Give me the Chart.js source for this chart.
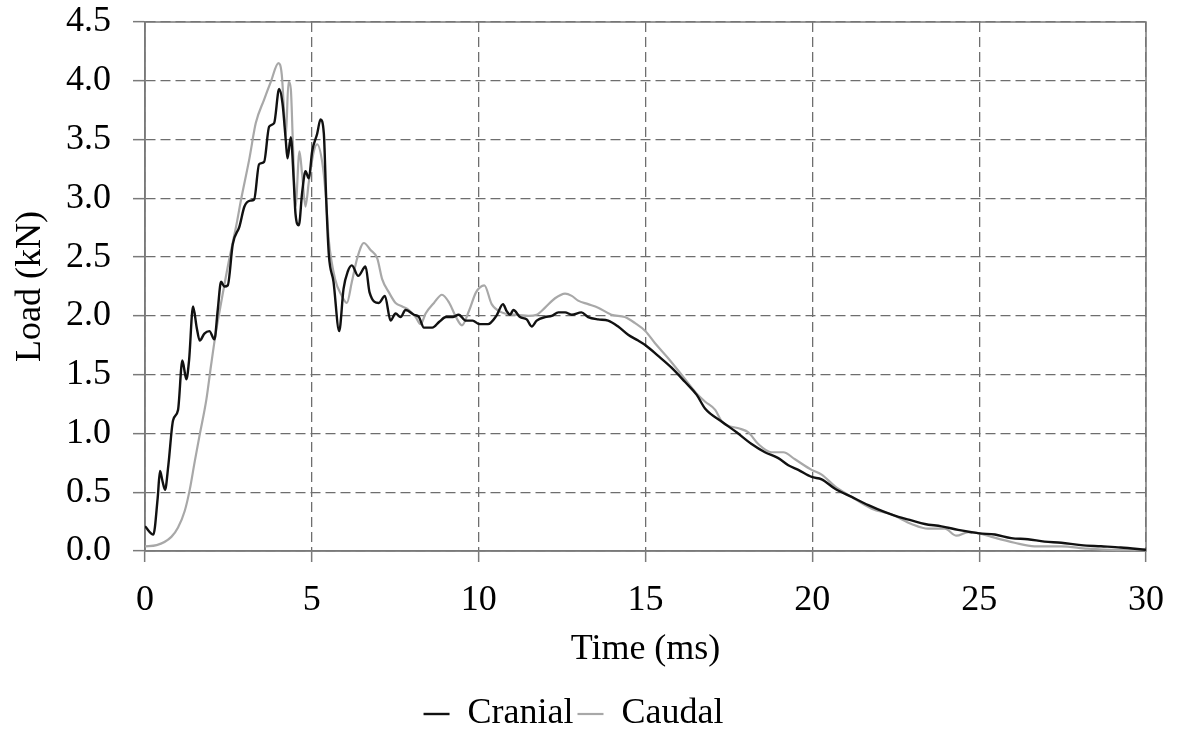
<!DOCTYPE html>
<html>
<head>
<meta charset="utf-8">
<script src="https://cdn.jsdelivr.net/npm/chart.js@4.4.1/dist/chart.umd.min.js"></script>
<style>
  body { margin: 0; background: #fff; }
  #wrap { width: 1181px; height: 733px; }
</style>
</head>
<body>
<div id="wrap"><canvas id="myChart"></canvas></div>
<script>
// data
let cranialTime = [0, 0.25, 0.38, 0.45, 0.52, 0.6, 0.7, 0.84, 0.99, 1.12, 1.24, 1.32, 1.44, 1.55, 1.64, 1.78, 1.93, 2.08, 2.18, 2.28, 2.38, 2.48, 2.63, 2.83, 2.98, 3.15, 3.27, 3.42, 3.57, 3.72, 3.87, 4.02, 4.12, 4.22, 4.27, 4.37, 4.46, 4.51, 4.61, 4.71, 4.81, 4.91, 5.01, 5.16, 5.26, 5.36, 5.43, 5.51, 5.65, 5.82, 5.95, 6.08, 6.2, 6.39, 6.61, 6.73, 7.01, 7.19, 7.36, 7.51, 7.66, 7.81, 8.06, 8.21, 8.36, 8.61, 8.82, 9.02, 9.22, 9.4, 9.62, 9.82, 10.02, 10.28, 10.53, 10.73, 10.84, 10.94, 11.04, 11.24, 11.44, 11.59, 11.74, 11.99, 12.19, 12.39, 12.59, 12.79, 13.08, 13.28, 13.58, 13.88, 14.18, 14.48, 14.78, 15.0, 15.38, 15.78, 16.18, 16.53, 16.79, 17.29, 17.73, 18.18, 18.58, 18.98, 19.28, 19.58, 19.98, 20.28, 20.68, 21.18, 21.68, 22.18, 22.58, 22.97, 23.37, 23.87, 24.37, 24.77, 25.0, 25.47, 25.96, 26.46, 26.96, 27.46, 28.05, 28.65, 29.24, 30]
let cranialLoad = [0.21, 0.14, 0.45, 0.68, 0.6, 0.52, 0.73, 1.11, 1.2, 1.62, 1.46, 1.62, 2.08, 1.9, 1.79, 1.85, 1.87, 1.8, 2.05, 2.29, 2.25, 2.26, 2.61, 2.76, 2.93, 2.98, 2.99, 3.29, 3.31, 3.61, 3.64, 3.93, 3.81, 3.49, 3.34, 3.52, 3.14, 2.87, 2.77, 3.05, 3.23, 3.17, 3.4, 3.55, 3.67, 3.55, 3.0, 2.52, 2.29, 1.87, 2.23, 2.38, 2.43, 2.34, 2.42, 2.2, 2.11, 2.17, 1.96, 2.02, 1.99, 2.05, 2.01, 1.99, 1.9, 1.9, 1.95, 1.99, 1.99, 2.01, 1.96, 1.96, 1.93, 1.93, 2.0, 2.1, 2.04, 2.01, 2.05, 1.99, 1.97, 1.91, 1.96, 1.99, 2.0, 2.03, 2.03, 2.01, 2.03, 1.99, 1.97, 1.96, 1.91, 1.84, 1.79, 1.75, 1.66, 1.56, 1.44, 1.33, 1.21, 1.1, 1.01, 0.91, 0.84, 0.79, 0.73, 0.69, 0.63, 0.61, 0.53, 0.46, 0.39, 0.33, 0.29, 0.26, 0.23, 0.21, 0.18, 0.16, 0.15, 0.14, 0.11, 0.1, 0.08, 0.07, 0.05, 0.04, 0.03, 0.01]

let caudalTime = [0, 0.35, 0.79, 0.99, 1.19, 1.34, 1.49, 1.64, 1.84, 1.98, 2.13, 2.28, 2.53, 2.73, 2.88, 3.13, 3.32, 3.57, 3.77, 4.0, 4.1, 4.17, 4.22, 4.3, 4.37, 4.43, 4.51, 4.63, 4.71, 4.81, 4.91, 5.06, 5.16, 5.31, 5.41, 5.51, 5.7, 5.9, 6.05, 6.2, 6.36, 6.56, 6.76, 6.96, 7.11, 7.31, 7.51, 7.71, 7.91, 8.11, 8.26, 8.41, 8.66, 8.9, 9.12, 9.32, 9.5, 9.72, 9.92, 10.17, 10.39, 10.69, 11.09, 11.49, 11.74, 11.99, 12.29, 12.59, 12.79, 12.98, 13.28, 13.58, 13.98, 14.38, 14.68, 15.0, 15.28, 15.68, 16.08, 16.53, 16.79, 17.09, 17.29, 17.84, 18.08, 18.38, 18.78, 19.13, 19.48, 19.98, 20.28, 20.68, 21.18, 21.78, 22.38, 22.97, 23.47, 23.97, 24.32, 24.67, 25.0, 25.37, 26.06, 26.66, 27.46, 28.25, 29.04, 30]
let caudalLoad = [0.04, 0.05, 0.12, 0.2, 0.34, 0.52, 0.76, 0.99, 1.29, 1.58, 1.87, 2.11, 2.49, 2.76, 2.99, 3.34, 3.64, 3.84, 3.99, 4.15, 4.05, 3.73, 3.52, 3.99, 3.93, 3.49, 2.93, 3.4, 3.2, 2.93, 3.14, 3.4, 3.46, 3.31, 3.05, 2.64, 2.31, 2.17, 2.11, 2.29, 2.49, 2.62, 2.56, 2.49, 2.31, 2.2, 2.11, 2.08, 2.05, 1.99, 1.93, 2.02, 2.11, 2.18, 2.11, 1.99, 1.92, 2.05, 2.2, 2.26, 2.1, 2.03, 2.01, 2.0, 2.01, 2.07, 2.15, 2.19, 2.17, 2.13, 2.1, 2.07, 2.01, 1.99, 1.94, 1.87, 1.77, 1.64, 1.5, 1.34, 1.27, 1.2, 1.1, 1.04, 1.01, 0.91, 0.84, 0.84, 0.78, 0.69, 0.65, 0.55, 0.46, 0.36, 0.31, 0.23, 0.19, 0.19, 0.13, 0.16, 0.15, 0.12, 0.07, 0.04, 0.04, 0.02, 0.01, 0.01]

let xTicks = [0, 5, 10, 15, 20, 25, 30]
let yTicks = [0, 0.5, 1, 1.5, 2, 2.5, 3, 3.5, 4, 4.5]

const serif = "'Liberation Serif', 'Times New Roman', serif"
const gridGrey = '#6e6e6e'

function toPoints(xs, ys) {
  let pts = []
  for(let i in xs) pts.push({x: xs[i], y: ys[i]})
  return pts
}

// solid box round the plot area
const frame = {
  id: 'frame',
  beforeDatasetsDraw(chart) {
    let a = chart.chartArea
    let c = chart.ctx
    c.save()
    c.strokeStyle = '#7a7a7a'
    c.lineWidth = 1.5
    c.strokeRect(a.left, a.top, a.right - a.left, a.bottom - a.top)
    c.restore()
  }
}

let ctx = document.getElementById('myChart').getContext('2d')
let graph = new Chart(ctx, {
  type: 'line',
  data: {
    datasets: [{
      label: 'Cranial',
      data: toPoints(cranialTime, cranialLoad),
      borderColor: '#111',
      backgroundColor: '#111',
      borderWidth: 2.4,
      pointRadius: 0,
      cubicInterpolationMode: 'monotone',
      fill: false
    }, {
      label: 'Caudal',
      data: toPoints(caudalTime, caudalLoad),
      borderColor: '#a8a8a8',
      backgroundColor: '#a8a8a8',
      borderWidth: 2.2,
      pointRadius: 0,
      cubicInterpolationMode: 'monotone',
      fill: false
    }]
  },
  options: {
    responsive: true,
    maintainAspectRatio: false,
    animation: false,
    layout: {padding: {top: 0, right: 34, left: 0, bottom: -9}},
    plugins: {
      tooltip: {enabled: false},
      legend: {
        position: 'bottom',
        labels: {
          usePointStyle: true,
          pointStyle: 'line',
          pointStyleWidth: 26,
          boxHeight: 2,
          padding: 4,
          color: '#000',
          font: {family: serif, size: 36, lineHeight: 1}
        }
      }
    },
    scales: {
      x: {
        type: 'linear',
        min: 0,
        max: 30,
        afterBuildTicks: (scale) => { scale.ticks = xTicks.map(v => ({value: v})) },
        afterFit: (scale) => { scale.height = 141 },
        ticks: {color: '#000', padding: 17, font: {family: serif, size: 36}},
        grid: {color: gridGrey, lineWidth: 1.3, tickLength: 11, tickColor: '#7a7a7a', tickWidth: 1.5},
        border: {color: '#7a7a7a', width: 1.5, dash: [10, 5]},
        title: {display: true, text: 'Time (ms)', color: '#000', padding: {top: 0, bottom: 21}, font: {family: serif, size: 36}}
      },
      y: {
        min: 0,
        max: 4.5,
        afterBuildTicks: (scale) => { scale.ticks = yTicks.map(v => ({value: v})) },
        afterFit: (scale) => {
          scale.width = 145
          scale.paddingTop = 22
          scale.paddingBottom = 0
        },
        ticks: {color: '#000', padding: 22, font: {family: serif, size: 36}, callback: (v) => v.toFixed(1)},
        grid: {color: gridGrey, lineWidth: 1.3, tickLength: 12, tickColor: '#7a7a7a', tickWidth: 1.5},
        border: {color: '#7a7a7a', width: 1.5, dash: [10, 5]},
        title: {display: true, text: 'Load (kN)', color: '#000', padding: {top: 9, bottom: 0}, font: {family: serif, size: 36}}
      }
    }
  },
  plugins: [frame]
})
</script>
</body>
</html>
